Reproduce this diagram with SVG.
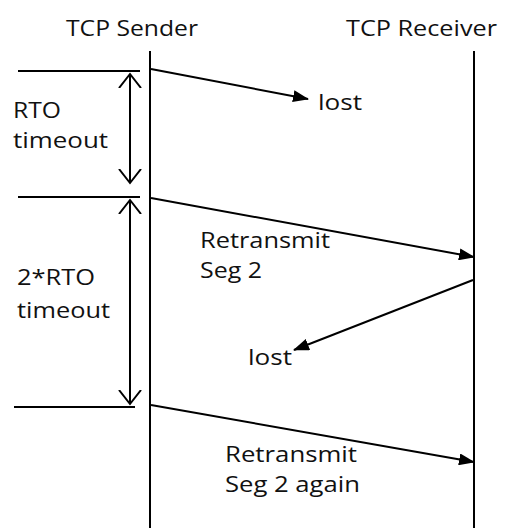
<svg xmlns="http://www.w3.org/2000/svg" width="505" height="528" viewBox="0 0 505 528">
  <style>
    .lbl { font-family: "Open Sans", "Noto Sans", "DejaVu Sans", sans-serif; font-size: 22px; fill: #111; }
    .life { stroke: #000; stroke-width: 2; fill: none; }
    .tick { stroke: #000; stroke-width: 2; fill: none; }
    .msg { stroke: #000; stroke-width: 2; fill: none; marker-end: url(#solid); }
    .span { stroke: #000; stroke-width: 2; fill: none; marker-start: url(#open); marker-end: url(#open); }
  </style>
  <defs>
    <marker id="solid" markerUnits="userSpaceOnUse" markerWidth="16" markerHeight="12" refX="15" refY="6" orient="auto">
      <path d="M0,0 L16,6 L0,12 Z" fill="#000"/>
    </marker>
    <marker id="open" markerUnits="userSpaceOnUse" markerWidth="24" markerHeight="24" refX="14" refY="12" orient="auto-start-reverse">
      <path d="M0,1 L14,12 L0,23" fill="none" stroke="#000" stroke-width="2"/>
    </marker>
  </defs>
  <rect width="505" height="528" fill="#fff"/>

  <!-- participants -->
  <g id="sender">
    <text class="lbl" x="66" y="36" textLength="132" lengthAdjust="spacingAndGlyphs">TCP Sender</text>
    <line class="life" x1="150" y1="51" x2="150" y2="528"/>
  </g>
  <g id="receiver">
    <text class="lbl" x="346" y="36" textLength="151" lengthAdjust="spacingAndGlyphs">TCP Receiver</text>
    <line class="life" x1="474" y1="51" x2="474" y2="528"/>
  </g>

  <!-- timer intervals -->
  <g id="rto">
    <line class="tick" x1="18" y1="71" x2="140" y2="71"/>
    <text class="lbl" x="13" y="118" textLength="48" lengthAdjust="spacingAndGlyphs">RTO</text>
    <text class="lbl" x="13" y="148" textLength="95" lengthAdjust="spacingAndGlyphs">timeout</text>
  </g>
  <g id="rto2">
    <line class="tick" x1="18" y1="197" x2="140" y2="197"/>
    <text class="lbl" x="17" y="285" textLength="78" lengthAdjust="spacingAndGlyphs">2*RTO</text>
    <text class="lbl" x="17" y="318" textLength="93" lengthAdjust="spacingAndGlyphs">timeout</text>
    <line class="tick" x1="14" y1="407" x2="135" y2="407"/>
  </g>

  <!-- message labels -->
  <g id="lost1">
    <text class="lbl" x="318" y="110" textLength="44" lengthAdjust="spacingAndGlyphs">lost</text>
  </g>
  <g id="retx1">
    <text class="lbl" x="200" y="248" textLength="130" lengthAdjust="spacingAndGlyphs">Retransmit</text>
    <text class="lbl" x="200" y="278" textLength="62" lengthAdjust="spacingAndGlyphs">Seg 2</text>
  </g>
  <g id="lost2">
    <text class="lbl" x="248" y="365" textLength="44" lengthAdjust="spacingAndGlyphs">lost</text>
  </g>
  <g id="retx2">
    <text class="lbl" x="225" y="462" textLength="132" lengthAdjust="spacingAndGlyphs">Retransmit</text>
    <text class="lbl" x="225" y="492" textLength="135" lengthAdjust="spacingAndGlyphs">Seg 2 again</text>
  </g>

  <!-- connectors -->
  <g id="connectors">
    <line class="msg" x1="151" y1="69" x2="308" y2="99"/>
    <line class="msg" x1="151" y1="198" x2="474" y2="257"/>
    <line class="msg" x1="473" y1="280" x2="294" y2="350"/>
    <line class="msg" x1="151" y1="405" x2="474" y2="462"/>
    <line class="span" x1="130" y1="74" x2="130" y2="183"/>
    <line class="span" x1="130" y1="200" x2="130" y2="404"/>
  </g>
</svg>
